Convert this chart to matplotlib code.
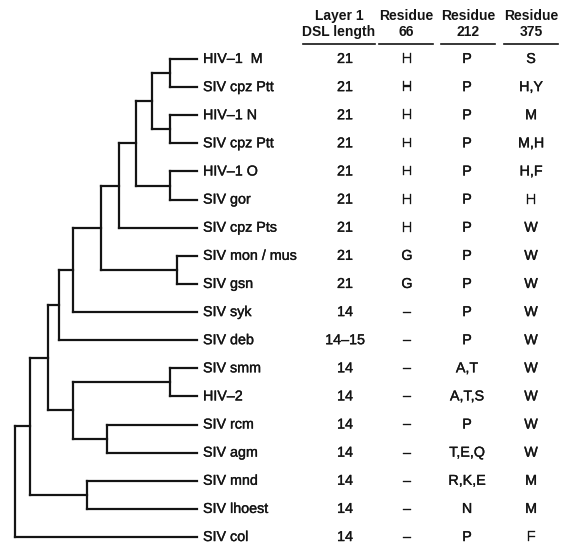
import matplotlib
matplotlib.use("Agg")
import matplotlib.pyplot as plt
import matplotlib.patheffects as pe

plt.rcParams['font.family'] = ['Liberation Sans', 'DejaVu Sans']

# leaves, top to bottom
taxa = ['HIV\u20131  M', 'SIV cpz Ptt', 'HIV\u20131 N', 'SIV cpz Ptt', 'HIV\u20131 O',
        'SIV gor', 'SIV cpz Pts', 'SIV mon / mus', 'SIV gsn', 'SIV syk',
        'SIV deb', 'SIV smm', 'HIV\u20132', 'SIV rcm', 'SIV agm', 'SIV mnd',
        'SIV lhoest', 'SIV col']
dsl_length = ['21', '21', '21', '21', '21', '21', '21', '21', '21', '14',
              '14\u201315', '14', '14', '14', '14', '14', '14', '14']
res66 = ['H', 'H', 'H', 'H', 'H', 'H', 'H', 'G', 'G'] + ['\u2013'] * 9
res212 = ['P', 'P', 'P', 'P', 'P', 'P', 'P', 'P', 'P', 'P', 'P', 'A,T',
          'A,T,S', 'P', 'T,E,Q', 'R,K,E', 'N', 'P']
res375 = ['S', 'H,Y', 'M', 'M,H', 'H,F', 'H', 'W', 'W', 'W', 'W', 'W', 'W',
          'W', 'W', 'W', 'M', 'M', 'F']
headers = ['Layer 1\nDSL length', 'Residue\n66', 'Residue\n212', 'Residue\n375']

# cladogram: (node x, [children]); ints are leaf rows
tree = (15, [
    (30, [
        (48, [
            (59, [
                (73, [
                    (101, [
                        (119, [
                            (136, [
                                (152, [(170, [0, 1]), (170, [2, 3])]),
                                (170, [4, 5])]),
                            6]),
                        (177, [7, 8])]),
                    9]),
                10]),
            (73, [(170, [11, 12]), (107, [13, 14])])]),
        (87, [15, 16])]),
    17])

LEAF_X = 197
INK = '#141414'
LW = 1.6

fig = plt.figure(figsize=(5.67, 5.43), dpi=100)
ax = fig.add_axes([0, 0, 1, 1])
ax.set_xlim(0, 567)
# rows are 28.12 px apart, first row at 59 px from the top
ax.set_ylim((543 - 59) / 28.12, -59 / 28.12)
ax.axis('off')


def draw(node):
    if isinstance(node, int):
        return node, LEAF_X
    x, children = node
    ys = []
    for ch in children:
        y, cx = draw(ch)
        ax.plot([x, cx], [y, y], color=INK, lw=LW, solid_capstyle='projecting')
        ys.append(y)
    ax.plot([x, x], [min(ys), max(ys)], color=INK, lw=LW,
            solid_capstyle='projecting')
    return (min(ys) + max(ys)) / 2, x


draw(tree)

fs = 10.3
heavy = [pe.withStroke(linewidth=0.25, foreground=INK)]
for i, name in enumerate(taxa):
    ax.text(203, i, name, fontsize=fs, va='center', ha='left', color=INK,
            path_effects=heavy)

col_x = [345, 407, 467, 531]
head_x = [339, 406, 468, 531]
head_half = [36, 27, 27, 27]
for cx, col in zip(col_x, [dsl_length, res66, res212, res375]):
    for i, v in enumerate(col):
        ax.text(cx, i, v, fontsize=fs, va='center', ha='center', color=INK,
                path_effects=heavy)

for hx, hh, h in zip(head_x, head_half, headers):
    ax.text(hx, -0.82, h, fontsize=10, fontweight='bold', ha='center',
            va='baseline', color=INK, linespacing=1.15)
    ax.plot([hx - hh, hx + hh], [-0.53, -0.53], color=INK, lw=1.2)

fig.savefig('out.png', dpi=100)
